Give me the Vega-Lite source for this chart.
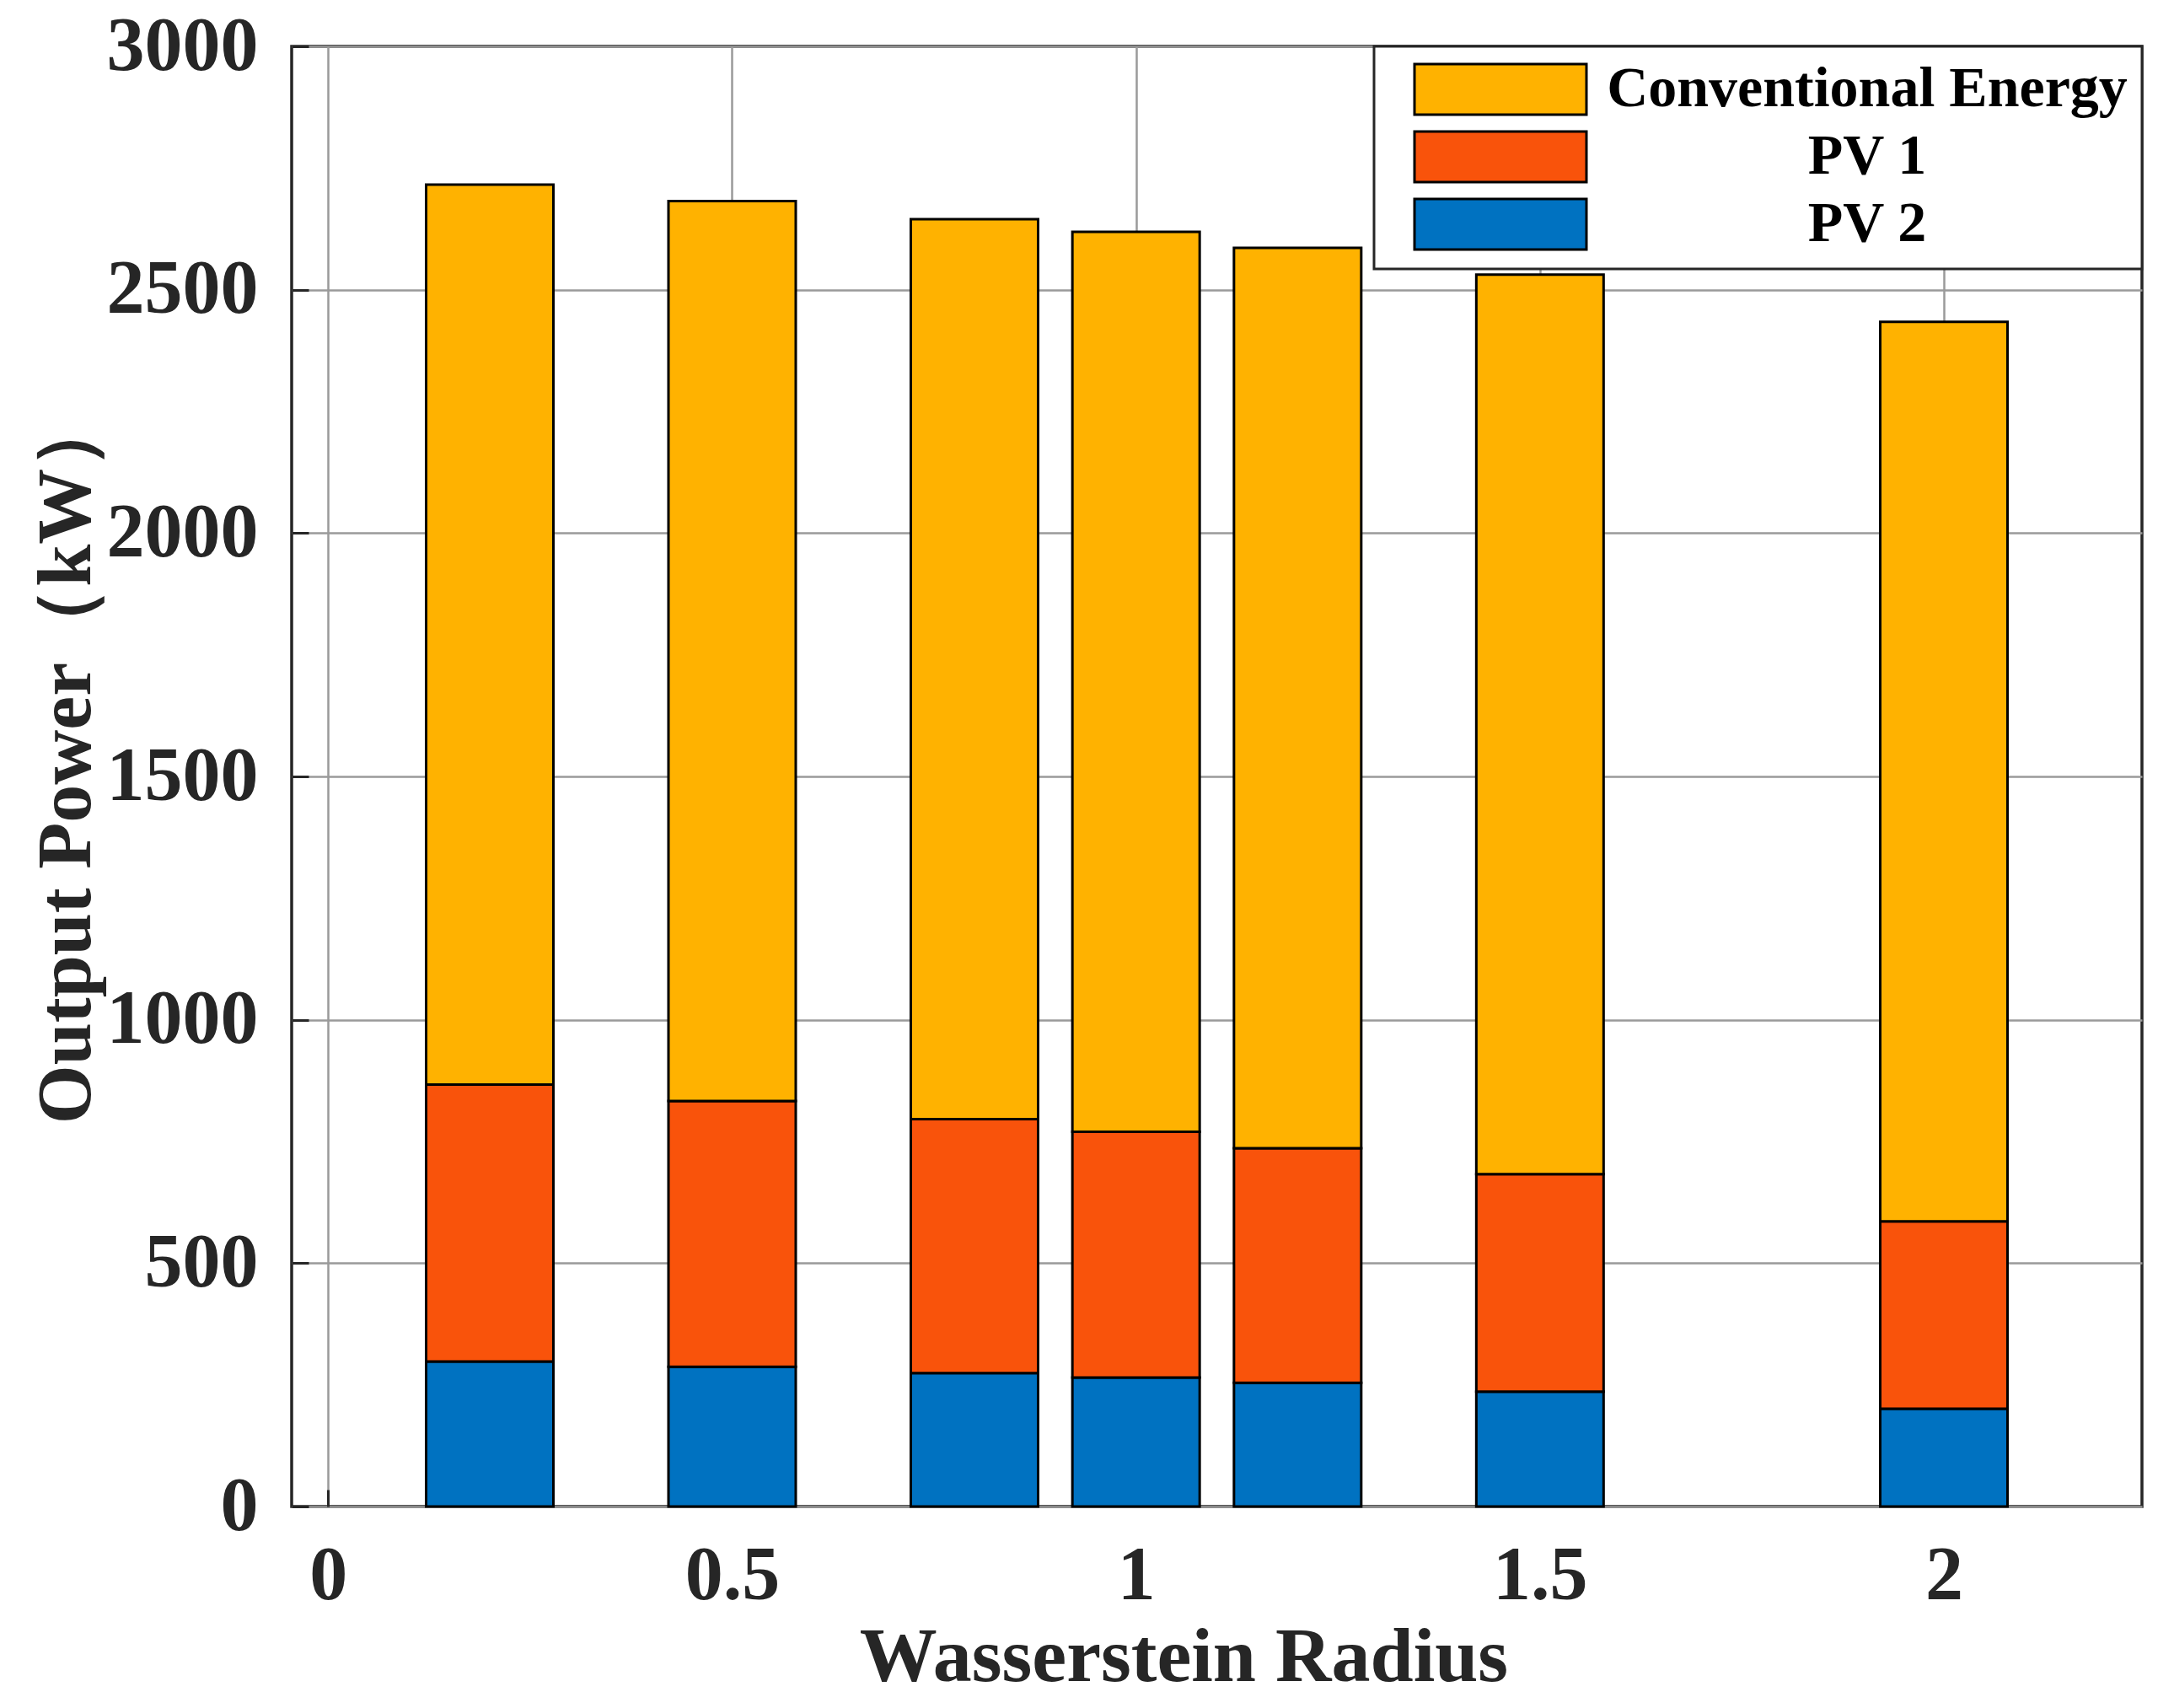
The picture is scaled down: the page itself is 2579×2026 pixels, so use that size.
{
  "$schema": "https://vega.github.io/schema/vega-lite/v6.json",
  "width": 2195,
  "height": 1732,
  "autosize": {"type": "none"},
  "padding": {"left": 346, "top": 55, "right": 38, "bottom": 239},
  "background": "white",
  "config": {
    "view": {"stroke": "#262626", "strokeWidth": 3.5},
    "font": "Liberation Serif"
  },
  "data": {
    "values": [
      {"r": 0.2, "series": "PV 2", "power": 298},
      {"r": 0.2, "series": "PV 1", "power": 569},
      {"r": 0.2, "series": "Conventional Energy", "power": 1849},
      {"r": 0.5, "series": "PV 2", "power": 287},
      {"r": 0.5, "series": "PV 1", "power": 546},
      {"r": 0.5, "series": "Conventional Energy", "power": 1849},
      {"r": 0.8, "series": "PV 2", "power": 274},
      {"r": 0.8, "series": "PV 1", "power": 522},
      {"r": 0.8, "series": "Conventional Energy", "power": 1849},
      {"r": 1.0, "series": "PV 2", "power": 265},
      {"r": 1.0, "series": "PV 1", "power": 505},
      {"r": 1.0, "series": "Conventional Energy", "power": 1849},
      {"r": 1.2, "series": "PV 2", "power": 254},
      {"r": 1.2, "series": "PV 1", "power": 482},
      {"r": 1.2, "series": "Conventional Energy", "power": 1850},
      {"r": 1.5, "series": "PV 2", "power": 236},
      {"r": 1.5, "series": "PV 1", "power": 447},
      {"r": 1.5, "series": "Conventional Energy", "power": 1848},
      {"r": 2.0, "series": "PV 2", "power": 201},
      {"r": 2.0, "series": "PV 1", "power": 385},
      {"r": 2.0, "series": "Conventional Energy", "power": 1848}
    ]
  },
  "mark": {"type": "bar", "size": 151, "stroke": "black", "strokeWidth": 3, "opacity": 1},
  "encoding": {
    "x": {
      "field": "r",
      "type": "quantitative",
      "scale": {"domain": [-0.04, 2.24], "nice": false, "zero": false},
      "axis": {
        "title": "Wasserstein Radius",
        "values": [0, 0.5, 1, 1.5, 2],
        "format": "~g",
        "domain": false,
        "ticks": true,
        "tickSize": -20,
        "tickColor": "#262626",
        "tickWidth": 3,
        "labelPadding": 58,
        "labelBaseline": "top",
        "labelFont": "Liberation Serif",
        "labelFontWeight": "bold",
        "labelFontSize": 90,
        "labelColor": "#262626",
        "grid": true,
        "gridColor": "#9a9a9a",
        "gridWidth": 2.5,
        "titleFont": "Liberation Serif",
        "titleFontWeight": "bold",
        "titleFontSize": 92,
        "titleColor": "#262626",
        "titleX": 1058,
        "titleY": 206,
        "titleAlign": "center",
        "titleBaseline": "alphabetic"
      }
    },
    "y": {
      "field": "power",
      "type": "quantitative",
      "stack": "zero",
      "scale": {"domain": [0, 3000], "nice": false},
      "axis": {
        "title": "Output Power（kW）",
        "values": [0, 500, 1000, 1500, 2000, 2500, 3000],
        "format": "d",
        "labelLimit": 500,
        "domain": false,
        "ticks": true,
        "tickSize": -20,
        "tickColor": "#262626",
        "tickWidth": 3,
        "labelPadding": 60,
        "labelFont": "Liberation Serif",
        "labelFontWeight": "bold",
        "labelFontSize": 90,
        "labelColor": "#262626",
        "grid": true,
        "gridColor": "#9a9a9a",
        "gridWidth": 2.5,
        "titleFont": "Liberation Serif",
        "titleFontWeight": "bold",
        "titleFontSize": 90,
        "titleColor": "#262626",
        "titleAngle": -90,
        "titleX": -240,
        "titleY": 844,
        "titleAlign": "center",
        "titleBaseline": "alphabetic"
      }
    },
    "color": {
      "field": "series",
      "type": "nominal",
      "scale": {
        "domain": ["Conventional Energy", "PV 1", "PV 2"],
        "range": ["#FFB200", "#F9530B", "#0072C1"]
      },
      "legend": {
        "title": null,
        "orient": "top-right",
        "offset": 0,
        "padding": 17,
        "fillColor": "white",
        "strokeColor": "#262626",
        "symbolType": "M-3.4,-1H3.4V1H-3.4Z",
        "symbolSize": 3600,
        "symbolStrokeColor": "black",
        "symbolStrokeWidth": 3,
        "symbolOpacity": 1,
        "symbolOffset": 99,
        "labelAlign": "center",
        "labelBaseline": "middle",
        "labelOffset": 401,
        "labelFont": "Liberation Serif",
        "labelFontWeight": "bold",
        "labelFontSize": 68,
        "labelColor": "black",
        "labelLimit": 1000,
        "rowPadding": 8,
        "encode": {"legend": {"update": {"strokeWidth": {"value": 3}}}}
      }
    },
    "order": {"field": "series", "sort": "descending"}
  }
}
